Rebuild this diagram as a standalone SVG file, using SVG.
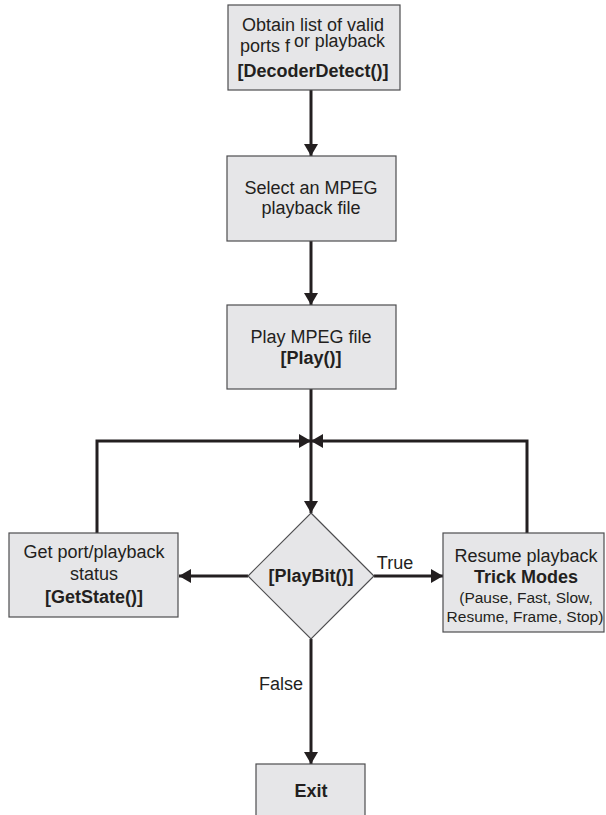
<svg xmlns="http://www.w3.org/2000/svg" width="606" height="815" viewBox="0 0 606 815">
<style>
.box{fill:#e6e6e8;stroke:#4d4d4f;stroke-width:1.2}
.t{font-family:"Liberation Sans",Arial,sans-serif;font-size:18px;fill:#231f20;text-anchor:middle}
.s{text-anchor:start}
.b{font-weight:bold}
.sm{font-size:15.5px}
.c{fill:none;stroke:#231f20;stroke-width:3}
</style>
<defs>
<marker id="ah" viewBox="0 0 12 14" refX="12" refY="7" markerWidth="12" markerHeight="14" markerUnits="userSpaceOnUse" orient="auto">
<path d="M0,0 L12,7 L0,14 Z" fill="#231f20"/>
</marker>
</defs>
<rect width="606" height="815" fill="#ffffff"/>
<g id="connectors">
<line class="c" x1="311" y1="90" x2="311" y2="156" marker-end="url(#ah)"/>
<line class="c" x1="311" y1="241" x2="311" y2="305" marker-end="url(#ah)"/>
<line class="c" x1="311" y1="389" x2="311" y2="513" marker-end="url(#ah)"/>
<polyline class="c" points="97,533 97,441 311,441" marker-end="url(#ah)"/>
<polyline class="c" points="527,533 527,441 311,441" marker-end="url(#ah)"/>
<line class="c" x1="248" y1="576" x2="179" y2="576" marker-end="url(#ah)"/>
<line class="c" x1="374" y1="576" x2="443" y2="576" marker-end="url(#ah)"/>
<line class="c" x1="311" y1="639" x2="311" y2="764" marker-end="url(#ah)"/>
<text class="t" x="395" y="569">True</text>
<text class="t" x="281" y="690">False</text>
</g>
<g id="n1">
<rect class="box" x="228" y="5" width="172" height="85"/>
<text class="t" x="313" y="31">Obtain list of valid</text>
<text class="t s" x="240" y="52">ports f</text>
<text class="t s" x="294" y="47" textLength="91" lengthAdjust="spacingAndGlyphs">or playback</text>
<text class="t b" x="313" y="77">[DecoderDetect()]</text>
</g>
<g id="n2">
<rect class="box" x="227" y="156" width="169" height="85"/>
<text class="t" x="311" y="194">Select an MPEG</text>
<text class="t" x="311" y="214">playback file</text>
</g>
<g id="n3">
<rect class="box" x="227" y="305" width="169" height="84"/>
<text class="t" x="311" y="343">Play MPEG file</text>
<text class="t b" x="311" y="364">[Play()]</text>
</g>
<g id="n4">
<rect class="box" x="9" y="533" width="169" height="84"/>
<text class="t" x="94" y="558">Get port/playback</text>
<text class="t" x="94" y="580">status</text>
<text class="t b" x="94" y="603">[GetState()]</text>
</g>
<g id="n5">
<polygon class="box" points="311,513 374,576 311,639 248,576"/>
<text class="t b" x="311" y="582">[PlayBit()]</text>
</g>
<g id="n6">
<rect class="box" x="443" y="533" width="161" height="99"/>
<text class="t" x="526" y="562">Resume playback</text>
<text class="t b" x="526" y="583">Trick Modes</text>
<text class="t sm" x="526" y="603">(Pause, Fast, Slow,</text>
<text class="t sm" x="525" y="622">Resume, Frame, Stop)</text>
</g>
<g id="n7">
<rect class="box" x="256" y="764" width="109" height="60"/>
<text class="t b" x="311" y="797">Exit</text>
</g>
</svg>
